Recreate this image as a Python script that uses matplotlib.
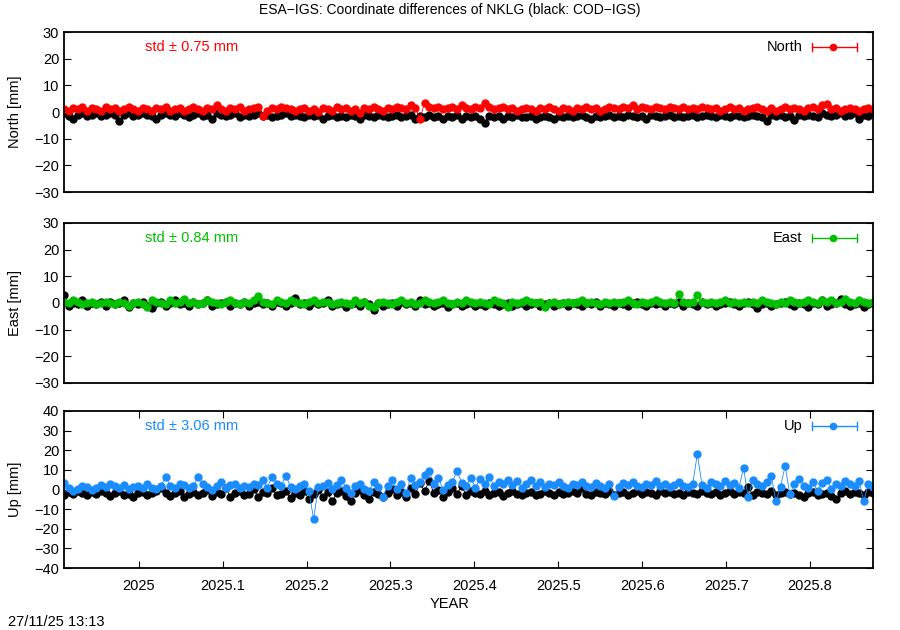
import numpy as np
import matplotlib.pyplot as plt

plt.rcParams['font.family'] = ['Liberation Sans', 'DejaVu Sans']
plt.rcParams['font.size'] = 10

# epochs (every 2nd day) from first to last solution
t_start = 2024.911
t_end = 2025.875
n_epochs = 176
year = np.linspace(t_start, t_end, n_epochs)

north_esa = [
    1, 0.5, 1.5, 1, 2, 0.5, 1.5, 1, 0.5, 2,
    1, 1.5, 0.5, 1, 2, 1, 0.5, 1.5, 1, 0.5,
    1.5, 1, 2, 0.5, 1, 1.5, 0.5, 1, 2, 1,
    0.5, 1.5, 1, 2.5, 1, 0.5, 1.5, 1, 2, 0.5,
    1, 1.5, 2, -1.5, 0.5, 1.5, 1, 2, 1.5, 1,
    0.5, 1, 1.5, 0.5, 1, 0, 1.5, 1, 0.5, 2,
    1, 1.5, 0.5, 1, -0.5, 1.5, 1, 2, 1, 0.5,
    1.5, 1, 2, 1.5, 1, 2.5, 1.5, -2.5, 3.5, 2,
    1.5, 2, 1, 1.5, 2, 1, 2.5, 1.5, 1, 2,
    1.5, 3.5, 2, 1, 1.5, 2, 1, 1.5, 0.5, 1,
    1.5, 1, 0.5, 1.5, 1, 2, 1, 0.5, 1.5, 1,
    0.5, 1.5, 1, 2, 1, 1.5, 0.5, 1, 2, 1.5,
    1, 2, 1.5, 2.5, 1, 2, 1.5, 1, 2, 1.5,
    1, 2, 1.5, 1, 2, 1, 1.5, 1, 2, 1.5,
    1, 1.5, 0.5, 1, 2, 1, 1.5, 0.5, 1, 1.5,
    2, 1, 0.5, 1.5, 0.5, 1, 2, 1, 1.5, 1,
    0.5, 1.5, 2, 1, 2.5, 3, 1, 1.5, 0.5, 1,
    1.5, 1, 0.5, 1, 1.5, 1,
]
north_cod = [
    -0.5, -1.5, -2.5, -1, -0.5, -1.5, -1, -0.5, -1.5, -1,
    -0.5, -1, -3.5, -1, -0.5, -1.5, -1, -0.5, -1, -1.5,
    -2.5, -1, -0.5, -1, -1.5, -0.5, -1, -2, -1, -0.5,
    -1.5, -1, -2.5, -0.5, -1, -1.5, -1, -0.5, -2, -1,
    -1.5, -1, -0.5, -1.5, -1, -2, -1.5, -1, -0.5, -1.5,
    -1, -1.5, -2, -1, -1.5, -1, -2.5, -1.5, -1, -2,
    -1.5, -2, -1, -1.5, -2.5, -1, -1.5, -2, -1, -1.5,
    -2, -1.5, -1, -2, -1.5, -1, -2.5, -1.5, -2, -1,
    -2, -1.5, -2.5, -1.5, -2, -1, -2.5, -1.5, -2, -1.5,
    -2.5, -4, -1.5, -2, -1.5, -2.5, -1.5, -2, -1, -2,
    -2, -1.5, -2.5, -2, -1.5, -2, -2.5, -1.5, -2, -1.5,
    -2, -1.5, -1, -2, -2.5, -1.5, -2, -1.5, -1, -2,
    -1.5, -2, -1, -1.5, -2, -1.5, -2.5, -1, -1.5, -2,
    -1.5, -1, -2, -1.5, -2, -1.5, -1, -2, -1.5, -1,
    -1.5, -2, -1, -1.5, -2, -1, -1.5, -2, -1.5, -1,
    -1.5, -2, -3.5, -1, -1.5, -1, -2, -1.5, -3, -1,
    -1.5, -1, -1.5, -2, -0.5, -1, -1.5, -1, -0.5, -1.5,
    -1, -0.5, -2.5, -1, -1.5, -0.5,
]
east_esa = [
    0.5, 0, 1, 0.5, -0.5, 0, 0.5, -0.5, 0, 0.5,
    0, -0.5, 0.5, 0, -1, 0, 0.5, -0.5, -1.5, 1,
    0.5, 0, -0.5, 1, 0, 0.5, 1.5, 0, 0.5, -0.5,
    0, 1, 0.5, 0, -0.5, 0.5, 1, 0, -0.5, 0.5,
    0, 1, 2.5, 0.5, 0, -0.5, 1, 0.5, 0, 1,
    0.5, 0, -0.5, 0.5, 1, 0, 0.5, 0.5, -0.5, 0,
    0.5, 0, -0.5, 1, 0, 0.5, -1, -1.5, 0, 0.5,
    0, -0.5, 0.5, 1, 0, 0.5, -0.5, 0, 1, 0.5,
    0, 0.5, 1, 0, -0.5, 0.5, 0, 1, 0.5, 0,
    0.5, 0, -0.5, 1, 0.5, 0, -1.5, 0.5, 0, 0.5,
    1, 0.5, 0, 0.5, -1.5, 0, 0.5, -0.5, 0, 0.5,
    0, 0.5, 1, 0, 0.5, 0, -0.5, 0.5, 0, 0.5,
    0, 0.5, 1, 0, -0.5, 0.5, 0, 0.5, 1, 0.5,
    0, 0.5, 0, 3.5, 0.5, 0, 0.5, 3, 0.5, 0,
    0.5, 0, 0.5, 1, 0, 0.5, 0, 0.5, 0, 0.5,
    0, 1, 0.5, 0, -0.5, 0.5, 0, 1, 0.5, 0,
    0.5, 1, 0.5, 0, 1, 0.5, 1, 0, 0.5, 1.5,
    0.5, 0, 1, 0.5, 0, 0.5,
]
east_cod = [
    3, -1, 0, -0.5, 1, -1, 0, -0.5, 0.5, -1,
    0.5, -0.5, 0, 1, -1.5, 0, -0.5, 0.5, -1, -2,
    0, 0.5, -1, 0, 1, -0.5, 0, -1, 0.5, -0.5,
    0, 1, -1, -0.5, 0, 0.5, -1, 0, -0.5, 0.5,
    -1, 0, 0.5, -0.5, 0, -1, 0.5, 0, -1, 0,
    2, -0.5, 0, -1, 0.5, -0.5, 0, 1, -1, -0.5,
    0, -1.5, -0.5, 0, -1, 0.5, -0.5, -2.5, 0, -1,
    -0.5, 0, -1, 0.5, -0.5, 0, -1, 1, -0.5, 0,
    -1, -0.5, 0, -1.5, -0.5, 0, -1, -0.5, 0, -1,
    -0.5, -1, 0, -0.5, -1, -0.5, 0, -1, -0.5, 0,
    -1, -0.5, 0, -1, -0.5, 0, -1, -0.5, 0, -1,
    0, -0.5, -1, 0, -0.5, 0.5, -1, 0, -0.5, -1,
    0, -0.5, -1, 0, 0.5, -0.5, -1, 0, -0.5, 0,
    -1, 0, -0.5, 0.5, -1, 0, -0.5, -1, 0.5, -0.5,
    0, -1, -0.5, 0, 0.5, -0.5, -1, 0, 0.5, -0.5,
    -2, -0.5, 0, -1, -0.5, 0, 0.5, -0.5, -1, 0,
    -0.5, -1.5, 0, -0.5, 1, -1, -0.5, 0, 1.5, -0.5,
    -1, -0.5, 0, -1.5, -0.5, 0,
]
up_esa = [
    3.5, 1, -1, 0.5, 2, 1.5, 0, 1, 2.5, 1.5,
    3, 2, 1, 2.5, 0.5, 1.5, 2, 1, 3, 1,
    0.5, 2, 6.5, 2, 1, 3, 2.5, 1, 2, 6.5,
    3, 1.5, 0, 2, 4, 1, 2.5, 3, 1, 2,
    1.5, 3, 2.5, 5, 1, 6.5, 3, 2, 7, 1.5,
    0.5, 2, 3, -1, -15, 1.5, 2, 3.5, 0.5, 2.5,
    5, 1, -2, 2, 3, 0.5, -1, 4, 1.5, -4,
    2, 5, 0.5, 3, -2, 6, 2.5, 4, 7.5, 9.5,
    3, 6, 0, 2.5, 4, 9.5, 3.5, 2, 6, 1,
    5.5, 3, 6.5, 2, 4, 3, 5, 2.5, 4.5, 1,
    3, 5, 2, 4, 1.5, 3, 2.5, 4, 2, 1,
    3, 2.5, 4, 2, 1.5, 3.5, 2, 1, 3, -3.5,
    1.5, 3.5, 2.5, 4, 2, 1.5, 3, 2.5, 4.5, 2,
    3, 1.5, 2.5, 4, 2, 1.5, 3, 18, 2.5, 1,
    4, 3, 2, 4.5, 2.5, 3.5, 1, 11, -4, 5,
    3, 2, 4, 7, -6, 1.5, 12, -2.5, 3, 5.5,
    2, 1, 4, -1, 3.5, 5, 0.5, 3, 2, 4.5,
    3, 2, 4.5, -6, 3, 1.5,
]
up_cod = [
    -3, -1.5, -2.5, -1, -2, -3, -1.5, -2.5, -1, -2,
    -3.5, -2, -1, -3, -2.5, -4, -2, -1.5, -3, -2,
    -1, 1, -2, -3.5, -2, -1, -4, -2.5, -1.5, -3,
    -2, 0, -3.5, -1.5, -2.5, 1, -4, -2, -1, -3,
    -2.5, 0.5, -4, -1.5, -2, 1, -3, -2.5, -1, -4.5,
    -2, -3, -1, -5, -2.5, -0.5, -4, -1.5, -6, -2,
    -1, -3.5, -6, -2, 0, -3, -5, -1.5, -2.5, -4,
    -2, 0.5, -3, -1.5, -4, 1, -2.5, 3.5, -1, 4.5,
    -2, 0, -4, -1.5, 1, -2.5, 2, -3, -1, -2,
    -2.5, -1, -3, -2, -1.5, -3.5, -2, -1, -2.5, -3,
    -2, -1.5, -3, -2.5, -1, -2, -3, -1.5, -2.5, -2,
    -1, -2, 1, -2.5, -3, -1.5, -2, -2.5, -1, -3,
    -2, -1.5, -3, -2, -1, -2.5, -1.5, -2, -3, -1,
    -2, -1.5, -2.5, -2, -3, -1.5, -2, -2.5, -1, -2,
    -2.5, -1.5, -3, -2, -1, -2.5, -1.5, -2, 1.5, -3,
    -1.5, -2, -2.5, -1, -3, -2, -1.5, -2.5, -2, -3,
    -4, -2, -1.5, -3, -2.5, -2, -3.5, -5, -2, -1,
    -2.5, -1.5, -2, -3, -1.5, -2,
]

components = ["North", "East", "Up"]
std_mm = [0.75, 0.84, 3.06]
colors = ["#ff0000", "#00c000", "#1a8cff"]
ylims = [(-30, 30), (-30, 30), (-40, 40)]
esa_series = [north_esa, east_esa, up_esa]
cod_series = [north_cod, east_cod, up_cod]
xticks = [2025, 2025.1, 2025.2, 2025.3, 2025.4, 2025.5, 2025.6, 2025.7, 2025.8]

fig = plt.figure(figsize=(9, 6.3), dpi=100)
# panel boxes in figure fractions (left, bottom, width, height)
boxes = [
    (64 / 900, 1 - 192 / 630, 809 / 900, 160 / 630),
    (64 / 900, 1 - 383 / 630, 809 / 900, 160 / 630),
    (64 / 900, 1 - 568 / 630, 809 / 900, 157 / 630),
]
msize = 5

for k, comp in enumerate(components):
    ax = fig.add_axes(boxes[k])
    col = colors[k]
    ax.plot(year, cod_series[k], "-o", color="black", lw=0.6, ms=msize,
            mec="black", clip_on=True)
    ax.plot(year, esa_series[k], "-o", color=col, lw=0.6, ms=msize,
            mec=col, clip_on=True)
    ax.set_xlim(t_start, t_end)
    ax.set_ylim(*ylims[k])
    ax.set_yticks(np.arange(ylims[k][0], ylims[k][1] + 1, 10))
    for s in ax.spines.values():
        s.set_linewidth(1.3)
    ax.tick_params(axis="y", direction="in", right=True, length=5,
                   width=0.8, labelsize=10.5)
    if k < 2:
        ax.set_xticks([])
    else:
        ax.set_xticks(xticks)
        ax.set_xticklabels(["%g" % v for v in xticks])
        ax.tick_params(axis="x", direction="in", top=True, length=5,
                       width=0.8, labelsize=10.5, pad=8)

    # std annotation
    ax.text(0.1, 0.906, "std \u00b1 %.2f mm" % std_mm[k], color=col,
            transform=ax.transAxes, ha="left", va="center", fontsize=10.5)
    # legend with error-bar style key
    ax.text(0.913, 0.906, comp, transform=ax.transAxes, ha="right",
            va="center", fontsize=10.5)
    ax.plot([0.925, 0.980], [0.906, 0.906], color=col, lw=1,
            transform=ax.transAxes, clip_on=False)
    for xc in (0.925, 0.980):
        ax.plot([xc, xc], [0.88, 0.932], color=col, lw=1,
                transform=ax.transAxes, clip_on=False)
    ax.plot([0.951], [0.906], "o", color=col, ms=4.5,
            transform=ax.transAxes, clip_on=False)

    ycenter = boxes[k][1] + boxes[k][3] / 2
    fig.text(15 / 900, ycenter, "%s [mm]" % comp, rotation=90,
             ha="center", va="center", fontsize=10.5)

fig.text(0.5, 1 - 10 / 630,
         "ESA\u2212IGS: Coordinate differences of NKLG (black: COD\u2212IGS)",
         ha="center", va="center", fontsize=10)
fig.text(0.5, 1 - 604 / 630, "YEAR", ha="center", va="center", fontsize=10.5)
fig.text(8 / 900, 1 - 622 / 630, "27/11/25 13:13", ha="left",
         va="center", fontsize=10.5)

fig.savefig("out.png", dpi=100)
